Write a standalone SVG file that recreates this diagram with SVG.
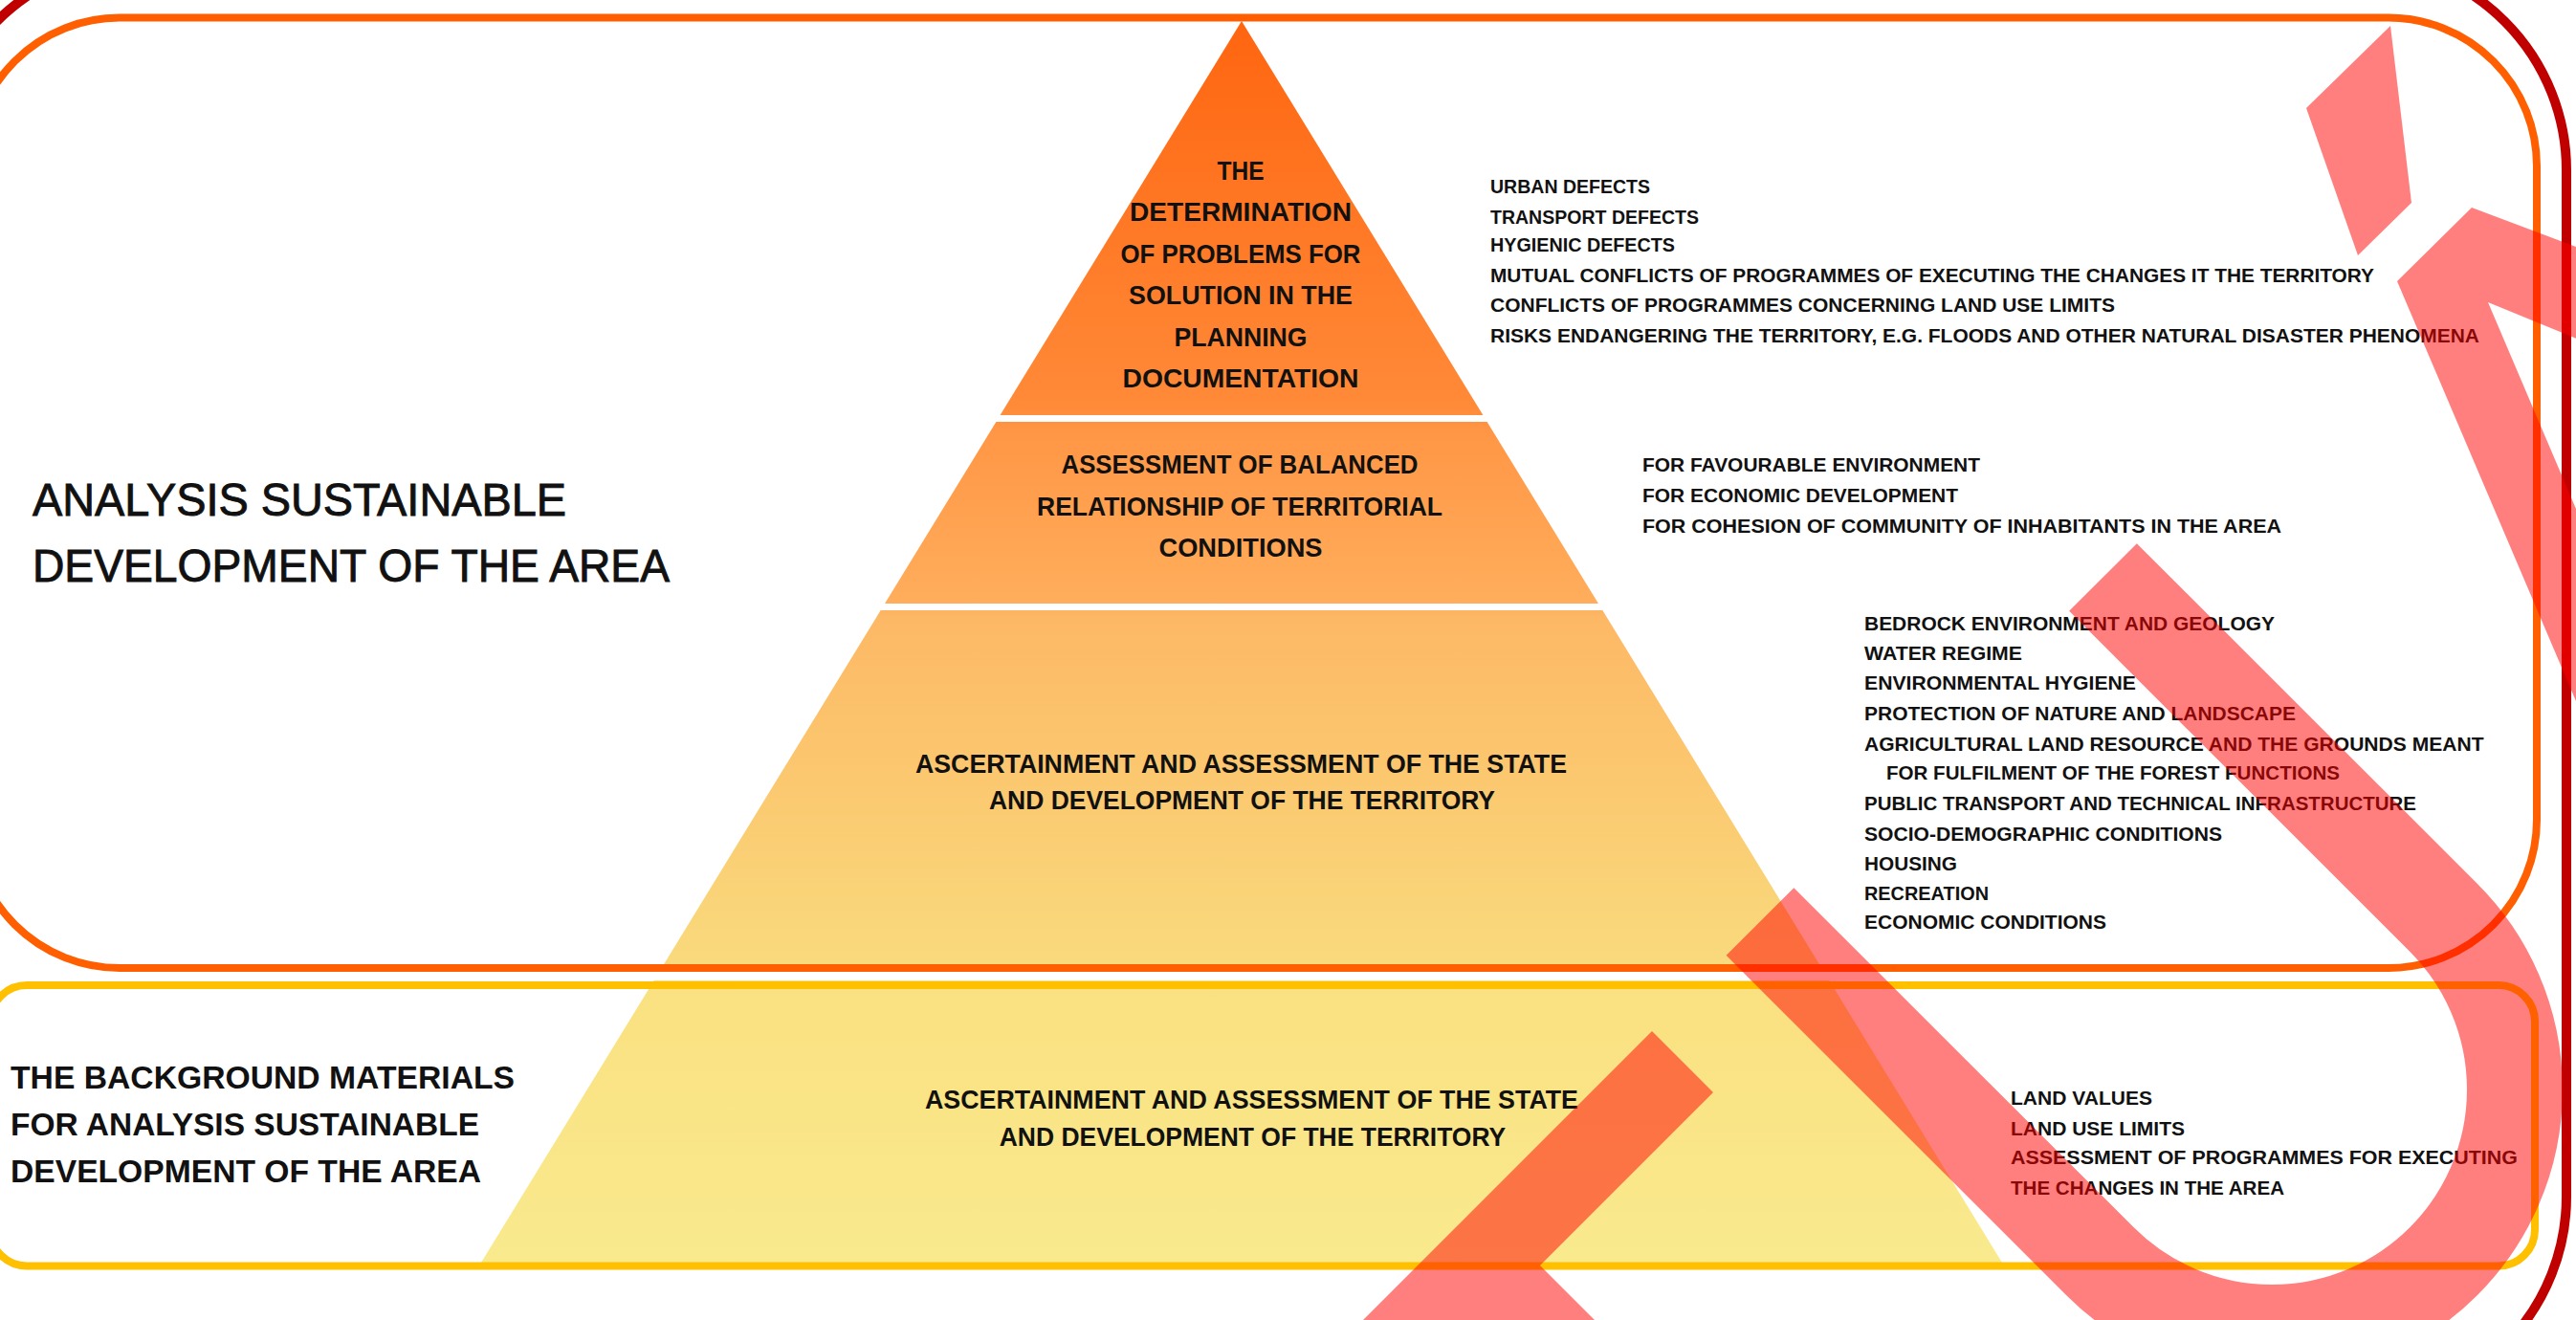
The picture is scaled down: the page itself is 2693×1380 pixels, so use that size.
<svg xmlns="http://www.w3.org/2000/svg" width="2693" height="1380" viewBox="0 0 2693 1380">
<style>
.t{font-family:"Liberation Sans",Arial,sans-serif;fill:#111}
.b{font-weight:bold}
.ttl{stroke:#111;stroke-width:0.9}
.py{font-size:28px;font-weight:bold;text-anchor:middle}
.py3{font-size:27px;font-weight:bold;text-anchor:middle}
.li{font-size:20.5px;font-weight:bold}
.seg{fill:url(#pyr)}
.frame{fill:none}
.ov{fill:#FF0000;fill-opacity:0.5}
</style>
<defs>
<linearGradient id="pyr" gradientUnits="userSpaceOnUse" x1="0" y1="22" x2="0" y2="1320">
<stop offset="0" stop-color="#FF6510"/>
<stop offset="0.31" stop-color="#FF8A38"/>
<stop offset="0.33" stop-color="#FF9645"/>
<stop offset="0.47" stop-color="#FFAE5C"/>
<stop offset="0.48" stop-color="#FDB865"/>
<stop offset="0.76" stop-color="#F9DA7C"/>
<stop offset="0.77" stop-color="#FAE080"/>
<stop offset="1" stop-color="#F9EA8E"/>
</linearGradient>
</defs>
<rect x="0" y="0" width="2693" height="1380" fill="#FFFFFF"/>

<g id="pyramid">
<g id="level-1"><polygon class="seg" points="1298,22 1550.4,434 1045.6,434"/></g>
<g id="level-2"><polygon class="seg" points="1041.4,441 1554.6,441 1671,631 925,631"/></g>
<g id="level-3"><polygon class="seg" points="920.7,638 1675.3,638 1905.6,1014 690.4,1014"/></g>
<g id="level-4"><polygon class="seg" points="683.7,1025 1912.3,1025 2093,1320 503,1320"/></g>
</g>

<g id="frames">
<rect id="frame-analysis" class="frame" x="-30" y="18.6" width="2682" height="993.4" rx="155" ry="155" stroke="#FF5F00" stroke-width="8"/>
<rect id="frame-background" class="frame" x="-10" y="1030" width="2660" height="293.5" rx="38" ry="38" stroke="#FFC000" stroke-width="8"/>
<rect id="frame-outer" class="frame" x="-68" y="-42" width="2751" height="1513" rx="220" ry="220" stroke="#C00000" stroke-width="10"/>
</g>

<g id="label-analysis">
<text class="t ttl" x="34" y="538.7" font-size="48" textLength="558" lengthAdjust="spacingAndGlyphs">ANALYSIS SUSTAINABLE</text>
<text class="t ttl" x="34" y="608" font-size="48" textLength="666" lengthAdjust="spacingAndGlyphs">DEVELOPMENT OF THE AREA</text>
</g>
<g id="label-background">
<text class="t b" x="11" y="1137.5" font-size="33" textLength="527" lengthAdjust="spacingAndGlyphs">THE BACKGROUND MATERIALS</text>
<text class="t b" x="11" y="1187" font-size="33" textLength="490" lengthAdjust="spacingAndGlyphs">FOR ANALYSIS SUSTAINABLE</text>
<text class="t b" x="11" y="1236" font-size="33" textLength="492" lengthAdjust="spacingAndGlyphs">DEVELOPMENT OF THE AREA</text>
</g>

<g id="text-level-1">
<text class="t py" x="1297" y="188" textLength="49" lengthAdjust="spacingAndGlyphs">THE</text>
<text class="t py" x="1297" y="231" textLength="232" lengthAdjust="spacingAndGlyphs">DETERMINATION</text>
<text class="t py" x="1297" y="275" textLength="251" lengthAdjust="spacingAndGlyphs">OF PROBLEMS FOR</text>
<text class="t py" x="1297" y="318" textLength="234" lengthAdjust="spacingAndGlyphs">SOLUTION IN THE</text>
<text class="t py" x="1297" y="362" textLength="139" lengthAdjust="spacingAndGlyphs">PLANNING</text>
<text class="t py" x="1297" y="404.5" textLength="247" lengthAdjust="spacingAndGlyphs">DOCUMENTATION</text>
</g>
<g id="text-level-2">
<text class="t py" x="1296" y="495" textLength="373" lengthAdjust="spacingAndGlyphs">ASSESSMENT OF BALANCED</text>
<text class="t py" x="1296" y="539" textLength="424" lengthAdjust="spacingAndGlyphs">RELATIONSHIP OF TERRITORIAL</text>
<text class="t py" x="1297" y="581.6" textLength="171" lengthAdjust="spacingAndGlyphs">CONDITIONS</text>
</g>
<g id="text-level-3">
<text class="t py3" x="1297.5" y="808" textLength="681" lengthAdjust="spacingAndGlyphs">ASCERTAINMENT AND ASSESSMENT OF THE STATE</text>
<text class="t py3" x="1298.5" y="845.5" textLength="529" lengthAdjust="spacingAndGlyphs">AND DEVELOPMENT OF THE TERRITORY</text>
</g>
<g id="text-level-4">
<text class="t py3" x="1308.5" y="1159" textLength="683" lengthAdjust="spacingAndGlyphs">ASCERTAINMENT AND ASSESSMENT OF THE STATE</text>
<text class="t py3" x="1309.5" y="1197.7" textLength="529.5" lengthAdjust="spacingAndGlyphs">AND DEVELOPMENT OF THE TERRITORY</text>
</g>

<g id="list-problems">
<text class="t li" x="1558" y="201.5" textLength="167" lengthAdjust="spacingAndGlyphs">URBAN DEFECTS</text>
<text class="t li" x="1558" y="233.5" textLength="218" lengthAdjust="spacingAndGlyphs">TRANSPORT DEFECTS</text>
<text class="t li" x="1558" y="263" textLength="193" lengthAdjust="spacingAndGlyphs">HYGIENIC DEFECTS</text>
<text class="t li" x="1558" y="295" textLength="924" lengthAdjust="spacingAndGlyphs">MUTUAL CONFLICTS OF PROGRAMMES OF EXECUTING THE CHANGES IT THE TERRITORY</text>
<text class="t li" x="1558" y="326" textLength="653" lengthAdjust="spacingAndGlyphs">CONFLICTS OF PROGRAMMES CONCERNING LAND USE LIMITS</text>
<text class="t li" x="1558" y="358" textLength="1034" lengthAdjust="spacingAndGlyphs">RISKS ENDANGERING THE TERRITORY, E.G. FLOODS AND OTHER NATURAL DISASTER PHENOMENA</text>
</g>
<g id="list-balance">
<text class="t li" x="1717" y="493" textLength="353" lengthAdjust="spacingAndGlyphs">FOR FAVOURABLE ENVIRONMENT</text>
<text class="t li" x="1717" y="525" textLength="330" lengthAdjust="spacingAndGlyphs">FOR ECONOMIC DEVELOPMENT</text>
<text class="t li" x="1717" y="557" textLength="668" lengthAdjust="spacingAndGlyphs">FOR COHESION OF COMMUNITY OF INHABITANTS IN THE AREA</text>
</g>
<g id="list-state">
<text class="t li" x="1949" y="659" textLength="429" lengthAdjust="spacingAndGlyphs">BEDROCK ENVIRONMENT AND GEOLOGY</text>
<text class="t li" x="1949" y="690" textLength="165" lengthAdjust="spacingAndGlyphs">WATER REGIME</text>
<text class="t li" x="1949" y="721" textLength="284" lengthAdjust="spacingAndGlyphs">ENVIRONMENTAL HYGIENE</text>
<text class="t li" x="1949" y="752.7" textLength="451" lengthAdjust="spacingAndGlyphs">PROTECTION OF NATURE AND LANDSCAPE</text>
<text class="t li" x="1949" y="785" textLength="647.5" lengthAdjust="spacingAndGlyphs">AGRICULTURAL LAND RESOURCE AND THE GROUNDS MEANT</text>
<text class="t li" x="1972" y="814.7" textLength="474" lengthAdjust="spacingAndGlyphs">FOR FULFILMENT OF THE FOREST FUNCTIONS</text>
<text class="t li" x="1949" y="847" textLength="577" lengthAdjust="spacingAndGlyphs">PUBLIC TRANSPORT AND TECHNICAL INFRASTRUCTURE</text>
<text class="t li" x="1949" y="878.7" textLength="374" lengthAdjust="spacingAndGlyphs">SOCIO-DEMOGRAPHIC CONDITIONS</text>
<text class="t li" x="1949" y="910" textLength="97" lengthAdjust="spacingAndGlyphs">HOUSING</text>
<text class="t li" x="1949" y="940.8" textLength="130" lengthAdjust="spacingAndGlyphs">RECREATION</text>
<text class="t li" x="1949" y="970.8" textLength="253" lengthAdjust="spacingAndGlyphs">ECONOMIC CONDITIONS</text>
</g>
<g id="list-background">
<text class="t li" x="2102" y="1155" textLength="148" lengthAdjust="spacingAndGlyphs">LAND VALUES</text>
<text class="t li" x="2102" y="1186.5" textLength="182" lengthAdjust="spacingAndGlyphs">LAND USE LIMITS</text>
<text class="t li" x="2102" y="1216.6" textLength="530" lengthAdjust="spacingAndGlyphs">ASSESSMENT OF PROGRAMMES FOR EXECUTING</text>
<text class="t li" x="2102" y="1248.6" textLength="286" lengthAdjust="spacingAndGlyphs">THE CHANGES IN THE AREA</text>
</g>

<g id="overlay">
<polygon class="ov" points="2411,113 2499,27 2521,212 2465,267"/>
<polygon class="ov" points="2506,294 2584,217 2900,336 2900,439 2601,316 2900,1018 2900,1219"/>
<path d="M2198.5,603.5 L2554.6,959.4 A254,254 0 0 1 2554.6,1318.6 A254,254 0 0 1 2195.4,1318.6 L1840,963.5" fill="none" stroke="#FF0000" stroke-opacity="0.5" stroke-width="100"/>
<polygon class="ov" points="1727,1078 1791,1142 1610,1323 1720,1433 1372,1433"/>
</g>
</svg>
